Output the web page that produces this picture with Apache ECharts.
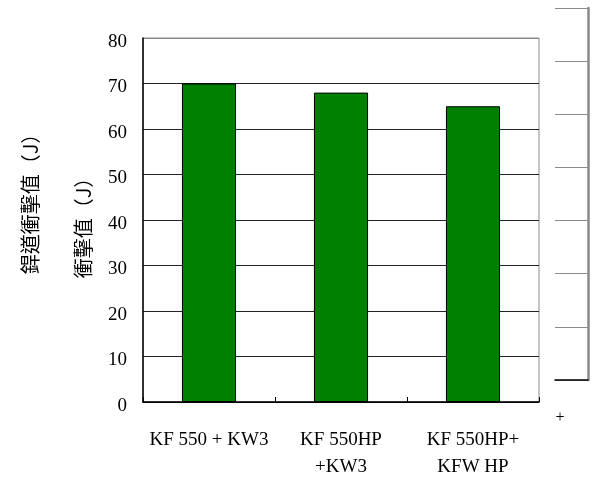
<!DOCTYPE html>
<html><head><meta charset="utf-8">
<script src="https://cdn.jsdelivr.net/npm/echarts@6/dist/echarts.min.js"></script>
<style>html,body{margin:0;padding:0;background:#fff}#c{width:592px;height:481px}</style>
</head><body><div id="c"></div>
<script>
const categories = ['KF 550 + KW3', 'KF 550HP\n+KW3', 'KF 550HP+\nKFW HP'];
const values = [70, 68, 65];
const yTitle1 = '銲道衝擊值（J）';
const yTitle2 = '衝擊值（J）';
const sideTicks = [0, 7];

const chart = echarts.init(document.getElementById('c'), null, {renderer: 'canvas'});
const serif = '"Liberation Serif","DejaVu Serif",serif';
const cjk = '"Noto Sans CJK TC","Noto Sans CJK SC",sans-serif';
chart.setOption({
  animation: false,
  backgroundColor: '#fff',
  grid: [
    {left: 143, right: 53, top: 38, bottom: 75, show: true, borderColor: '#8a8a8a', borderWidth: 1},
    {left: 555, right: 4, top: 8, bottom: 101, show: false}
  ],
  xAxis: [
    {type: 'category', data: categories, gridIndex: 0,
     axisLine: {lineStyle: {color: '#000', width: 1.5}},
     axisTick: {show: true, inside: true, length: 5, lineStyle: {color: '#000'}},
     axisLabel: {color: '#000', fontFamily: serif, fontSize: 19, lineHeight: 27, margin: 25, interval: 0}},
    {type: 'value', gridIndex: 1, min: 0, max: 1, show: true,
     axisLine: {show: true, onZero: false, lineStyle: {color: '#000', width: 1.5}},
     axisTick: {show: false}, axisLabel: {show: false}, splitLine: {show: false}}
  ],
  yAxis: [
    {type: 'value', gridIndex: 0, min: 0, max: 80, interval: 10,
     axisLine: {show: true, lineStyle: {color: '#000', width: 1.5}},
     axisTick: {show: false},
     axisLabel: {color: '#000', fontFamily: serif, fontSize: 19, margin: 16,
       formatter: '{v|{value}}',
       rich: {v: {color: '#000', fontFamily: serif, fontSize: 19, padding: [8, 0, 0, 0]}}},
     splitLine: {show: true, lineStyle: {color: ['#000','#222','#222','#222','#222','#222','#222','#222','#8a8a8a'], width: 1}}},
    {type: 'value', gridIndex: 1, min: sideTicks[0], max: sideTicks[1], interval: 1, position: 'right',
     axisLine: {show: true, onZero: false, lineStyle: {color: '#8a8a8a', width: 2.5}},
     axisTick: {show: false}, axisLabel: {show: false},
     splitLine: {show: true, lineStyle: {color: '#8a8a8a', width: 1}}}
  ],
  series: [{
    type: 'bar', data: values, xAxisIndex: 0, yAxisIndex: 0,
    barWidth: '41%',
    itemStyle: {color: '#008000', borderColor: '#000', borderWidth: 1}
  }],
  graphic: [
    {type: 'text', x: 30, y: 199, rotation: Math.PI / 2,
     style: {text: yTitle1, fill: '#000', font: '20px ' + cjk, textAlign: 'center', textVerticalAlign: 'middle'}},
    {type: 'text', x: 83, y: 223, rotation: Math.PI / 2,
     style: {text: yTitle2, fill: '#000', font: '20px ' + cjk, textAlign: 'center', textVerticalAlign: 'middle'}},
    {type: 'text', x: 560, y: 418,
     style: {text: '+', fill: '#000', font: '16px ' + serif, textAlign: 'center', textVerticalAlign: 'middle'}}
  ]
});
</script></body></html>
